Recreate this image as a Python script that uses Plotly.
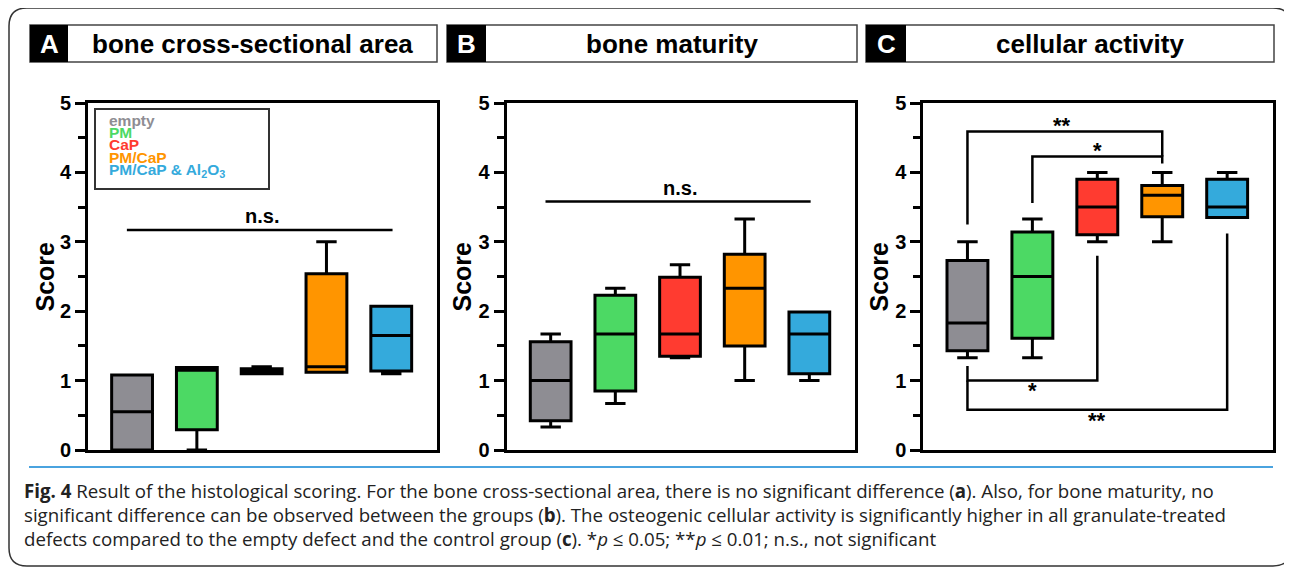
import plotly.graph_objects as go

W, H = 1292, 567
OFF = 8  # page body margin that offsets the figure in the browser window


def fx(x):
    return (x - OFF) / W


def fy(y):
    return 1 - (y - OFF) / H


# ---------------- data ----------------
groups = ["empty", "PM", "CaP", "PM/CaP", "PM/CaP & Al<sub>2</sub>O<sub>3</sub>"]
colors = ["#8e8d93", "#4cd964", "#ff3b30", "#ff9500", "#34aadc"]

# Panel A: bone cross-sectional area
a_low = [0.0, 0.0, 1.10, 1.12, 1.10]
a_q1 = [0.0, 0.29, 1.10, 1.12, 1.14]
a_med = [0.55, 1.15, 1.13, 1.20, 1.65]
a_q3 = [1.08, 1.19, 1.17, 2.54, 2.07]
a_high = [1.08, 1.19, 1.20, 3.00, 2.07]

# Panel B: bone maturity
b_low = [0.33, 0.67, 1.33, 1.00, 1.00]
b_q1 = [0.42, 0.85, 1.35, 1.50, 1.10]
b_med = [1.00, 1.67, 1.67, 2.33, 1.67]
b_q3 = [1.56, 2.23, 2.49, 2.82, 1.99]
b_high = [1.67, 2.33, 2.67, 3.33, 1.99]

# Panel C: cellular activity
c_low = [1.33, 1.33, 3.00, 3.00, 3.35]
c_q1 = [1.43, 1.61, 3.10, 3.36, 3.35]
c_med = [1.83, 2.50, 3.50, 3.67, 3.50]
c_q3 = [2.73, 3.14, 3.90, 3.81, 3.90]
c_high = [3.00, 3.33, 4.00, 4.00, 4.00]

panel_letters = ["A", "B", "C"]
panel_titles = ["bone cross-sectional area", "bone maturity", "cellular activity"]

# significance markers
ns_y = [3.17, 3.58]          # n.s. line level for panels A, B
ns_x = [-0.08, 4.02]
c_brackets_x = [[0, 0, 3, 3], [1, 1, 3, 3], [0, 0, 2, 2], [0, 0, 4, 4]]
c_brackets_y = [[3.25, 4.59, 4.59, 4.23], [3.56, 4.23, 4.23, 4.13],
                [1.21, 1.00, 1.00, 2.80], [1.00, 0.58, 0.58, 3.12]]
c_labels = ["**", "*", "*", "**"]
c_label_x = [1.45, 2.0, 1.0, 2.0]
c_label_y = [4.68, 4.32, 0.86, 0.42]

caption_lines = [
    "<b>Fig. 4</b> Result of the histological scoring. For the bone cross-sectional area, there is no significant difference (<b>a</b>). Also, for bone maturity, no",
    "significant difference can be observed between the groups (<b>b</b>). The osteogenic cellular activity is significantly higher in all granulate-treated",
    "defects compared to the empty defect and the control group (<b>c</b>). *<i>p</i> ≤ 0.05; **<i>p</i> ≤ 0.01; n.s., not significant",
]

# ---------------- layout geometry (pixels) ----------------
plot_x = [(88, 437), (506.7, 855), (923.3, 1273)]
plot_y = (103, 450)
header_boxes = [(30, 68, 437), (447, 486, 857), (866, 906, 1274)]
score_x = [45, 462, 879]

panels = [
    (a_low, a_q1, a_med, a_q3, a_high),
    (b_low, b_q1, b_med, b_q3, b_high),
    (c_low, c_q1, c_med, c_q3, c_high),
]

FONT = "Liberation Sans, Arial, sans-serif"

fig = go.Figure()
layout = dict(
    width=W, height=H,
    margin=dict(l=0, r=0, t=0, b=0, pad=0, autoexpand=False),
    paper_bgcolor="white", plot_bgcolor="white",
    showlegend=False,
    font=dict(family=FONT, color="black"),
)
shapes = []
annotations = []

for p, vals in enumerate(panels):
    sfx = "" if p == 0 else str(p + 1)
    xa, ya = "x" + sfx, "y" + sfx
    lo, q1, med, q3, hi = vals
    for i in range(len(groups)):
        fig.add_trace(go.Box(
            x=[i], lowerfence=[lo[i]], q1=[q1[i]], median=[med[i]],
            q3=[q3[i]], upperfence=[hi[i]],
            fillcolor=colors[i], line=dict(color="black", width=3),
            width=0.63, whiskerwidth=0.5, boxpoints=False,
            xaxis=xa, yaxis=ya, hoverinfo="skip",
        ))
    layout["xaxis" + sfx] = dict(
        domain=[fx(plot_x[p][0]), fx(plot_x[p][1])], anchor=ya, automargin=False,
        range=[-0.68, 4.706], showline=True, linewidth=3, linecolor="black",
        mirror=True, ticks="", showticklabels=False, showgrid=False, zeroline=False,
    )
    layout["yaxis" + sfx] = dict(
        domain=[fy(plot_y[1]), fy(plot_y[0])], anchor=xa, automargin=False,
        range=[0, 5], tickvals=[0, 1, 2, 3, 4, 5],
        ticks="outside", ticklen=10, tickwidth=3, tickcolor="black",
        showline=True, linewidth=3, linecolor="black", mirror=True,
        showgrid=False, zeroline=False,
        tickfont=dict(family=FONT, size=20, color="black", weight="bold"),
        minor=dict(dtick=0.5, ticks="outside", ticklen=7, tickwidth=3,
                   tickcolor="black", showgrid=False),
    )
    # Score title
    annotations.append(dict(
        x=fx(score_x[p]), y=fy((plot_y[0] + plot_y[1]) / 2), xref="paper", yref="paper",
        text="<b>Score</b>", textangle=-90, showarrow=False,
        font=dict(family=FONT, size=25, color="black"), xanchor="center", yanchor="middle",
    ))
    # header
    bx0, bx1, bx2 = header_boxes[p]
    shapes.append(dict(type="rect", xref="paper", yref="paper",
                       x0=fx(bx0), x1=fx(bx2), y0=fy(62), y1=fy(25),
                       line=dict(color="#444", width=1.5), fillcolor="white"))
    shapes.append(dict(type="rect", xref="paper", yref="paper",
                       x0=fx(bx0), x1=fx(bx1), y0=fy(62), y1=fy(25),
                       line=dict(width=0), fillcolor="black"))
    annotations.append(dict(
        x=fx((bx0 + bx1) / 2), y=fy(43.5), xref="paper", yref="paper",
        text="<b>%s</b>" % panel_letters[p], showarrow=False,
        xanchor="center", yanchor="middle",
        font=dict(family=FONT, size=26, color="white"),
    ))
    annotations.append(dict(
        x=fx((bx1 + bx2) / 2), y=fy(43.5), xref="paper", yref="paper",
        text="<b>%s</b>" % panel_titles[p], showarrow=False,
        xanchor="center", yanchor="middle",
        font=dict(family=FONT, size=26, color="black"),
    ))
    # significance
    if p < 2:
        fig.add_trace(go.Scatter(
            x=ns_x, y=[ns_y[p], ns_y[p]], mode="lines",
            line=dict(color="black", width=2.5), xaxis=xa, yaxis=ya, hoverinfo="skip",
        ))
        annotations.append(dict(
            x=2, y=ns_y[p], xref=xa, yref=ya, text="<b>n.s.</b>", showarrow=False,
            yanchor="bottom", yshift=1, font=dict(family=FONT, size=20, color="black"),
        ))
    else:
        for bxs, bys in zip(c_brackets_x, c_brackets_y):
            fig.add_trace(go.Scatter(
                x=bxs, y=bys, mode="lines", line=dict(color="black", width=2.5),
                xaxis=xa, yaxis=ya, hoverinfo="skip",
            ))
        for t, lx, ly in zip(c_labels, c_label_x, c_label_y):
            annotations.append(dict(
                x=lx, y=ly, xref=xa, yref=ya, text="<b>%s</b>" % t, showarrow=False,
                yanchor="middle", font=dict(family=FONT, size=22, color="black"),
            ))

# legend in panel A
shapes.append(dict(type="rect", xref="paper", yref="paper",
                   x0=fx(95), x1=fx(269), y0=fy(189), y1=fy(109),
                   line=dict(color="#333", width=2), fillcolor="rgba(0,0,0,0)"))
legend_y = [121, 133, 145, 157.5, 170]
for g, c, ly in zip(groups, colors, legend_y):
    annotations.append(dict(
        x=fx(107), y=fy(ly), xref="paper", yref="paper", text="<b>%s</b>" % g,
        showarrow=False, xanchor="left", yanchor="middle",
        font=dict(family=FONT, size=15.5, color=c),
    ))

# outer rounded frame
L, T, R, B, r = 9, 8, 1291, 566, 18
path = ("M %f,%f L %f,%f Q %f,%f %f,%f L %f,%f Q %f,%f %f,%f L %f,%f Q %f,%f %f,%f L %f,%f Q %f,%f %f,%f Z" % (
    fx(L), fy(T + r), fx(L), fy(B - r), fx(L), fy(B), fx(L + r), fy(B),
    fx(R - r), fy(B), fx(R), fy(B), fx(R), fy(B - r),
    fx(R), fy(T + r), fx(R), fy(T), fx(R - r), fy(T),
    fx(L + r), fy(T), fx(L), fy(T), fx(L), fy(T + r)))
shapes.append(dict(type="path", xref="paper", yref="paper", path=path,
                   line=dict(color="#333", width=1.5), layer="below"))

# caption separator
shapes.append(dict(type="line", xref="paper", yref="paper",
                   x0=fx(29), x1=fx(1273), y0=fy(467), y1=fy(467),
                   line=dict(color="#4aa3df", width=2)))
cap_y = [490, 514, 538]
for line, cy in zip(caption_lines, cap_y):
    annotations.append(dict(
        x=fx(22), y=fy(cy), xref="paper", yref="paper", text=line, showarrow=False,
        xanchor="left", yanchor="middle",
        font=dict(family="Open Sans, sans-serif", size=18.7, color="#222"),
    ))

layout["shapes"] = shapes
layout["annotations"] = annotations
fig.update_layout(**layout)
fig.write_html("out.html")
